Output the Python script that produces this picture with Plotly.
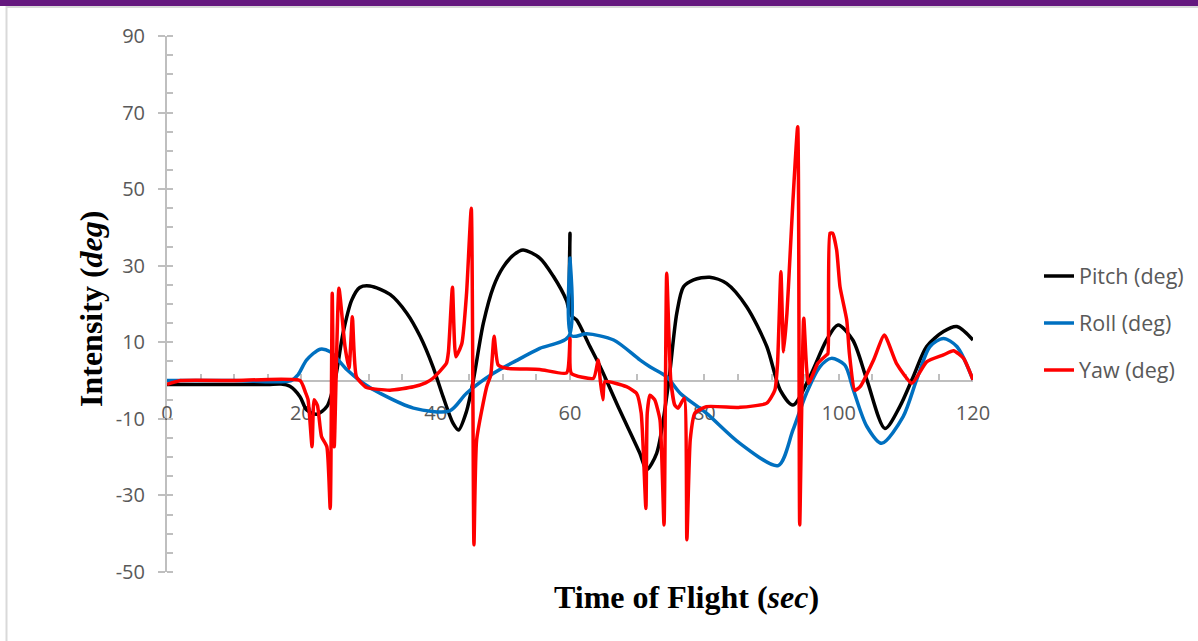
import plotly.graph_objects as go

# ---------------- data ----------------
pitch_t = [0, 5, 10, 15, 17, 18.3, 19.8, 20.8, 22.3, 23.8, 25, 26.2, 27.5, 28.7, 30.2, 33.2,
           35.7, 37.7, 39.6, 41.1, 42.6, 43.4, 44.6, 45.6, 47.1, 48.6, 50, 51.6, 53, 55.5, 57.5,
           59.5, 59.8, 60, 60.2, 61, 62.8, 64.5, 67.4, 70.4, 71.4, 72.9, 74.6, 75.9, 76.9,
           78.4, 80.8, 83.3, 86.3, 89.3, 91.3, 93.2, 95.7, 98.2, 99.9, 102.1, 104.2, 106.9,
           109.1, 111.1, 113.1, 115.6, 117.6, 120]
pitch_v = [-1, -1, -1, -1, -0.9, -1.5, -4.2, -7.7, -8.8, -6.8, 0, 12.3, 21, 24.3, 24.7, 22.5,
           17.6, 11.5, 3.6, -4.2, -11.2, -12.9, -8, 0, 15, 24.5, 29.5, 32.8, 34.1, 32.0, 27.3,
           20.8, 18.8, 38.5, 17, 15.8, 9.5, 3.6, -7.7, -19, -23.3, -19, -1.6, 17.6, 24.5,
           26.3, 27, 25.4, 19.3, 8.9, -2.5, -6.4, 1, 10.6, 14.5, 10.6, 0.2, -12.5,
           -6.8, 1, 8.9, 12.8, 14.1, 10.6]

roll_t = [0, 10, 18.5, 19.5, 20.8, 22.8, 24.3, 26.8, 29.2, 31.7, 36.7, 42.1, 44.6, 48.6,
          52, 55.5, 59.8, 60, 60.2, 62.5, 66.5, 70.4, 71.9, 74.4, 76.4, 80.3, 85.3, 91,
          93.2, 95.2, 97.2, 98.9, 100.9, 102.2, 104.2, 106.4, 109.6, 111.6, 113.6, 115.6,
          117.6, 120]
roll_v = [0, 0, 0, 1.5, 5.4, 8.2, 7.5, 2.8, -0.7, -3.3, -7.2, -7.9, -3.3, 1.9,
          5.2, 8.4, 11.5, 32, 11.7, 12.2, 10.6, 5.4, 3.6, 1, -3.3, -8.5, -16.4, -22.2,
          -12.9, -3.3, 3.6, 5.8, 4.1, -2.5, -12, -16.4, -9.4, 0.2, 8.9, 11,
          8.9, 0.2]

yaw_t = [0, 2, 10, 19.8, 20.6, 21, 21.6, 21.9, 22.4, 23, 23.8, 24.3, 24.6, 24.9, 25.6,
         26.5, 27.1, 27.6, 28.2, 29.7, 33.2, 36.7, 38.5, 39.6, 41.6, 41.9, 42.5, 43, 43.9,
         44.6, 45.3, 45.7, 46.1, 47.6, 48.2, 48.7, 49.3, 50.6, 55.5, 59.5, 60, 60.2, 63.5,
         64.2, 64.5, 64.9, 65.2, 68.4, 69.9, 70.6, 71.3, 71.5, 71.9, 72.6, 73.4, 74, 74.4,
         75, 75.6, 76.1, 77, 77.4, 77.9, 78.6, 80.3, 85.3, 89.3, 90.5, 90.9, 91.4, 91.8,
         92.3, 92.7, 93.2, 93.9, 94.2, 94.8, 95.5, 96.9, 98.2, 98.4, 98.7, 99.1, 99.7,
         100.2, 101.2, 101.6, 102.4, 103.2, 105.2, 106.8, 108.6, 110.9, 113.1, 115.6,
         117.1, 118.6, 120]
yaw_v = [-1, 0, 0, 0, -3, -5, -17.3, -5, -6.5, -14.6, -17.3, -33.4, 22.8, -17.3, 24.1,
         8.9, 3.2, 16.7, 1, -1.8, -2.5, -1.6, -0.6, 0.6, 4.5, 7.5, 24.4, 6.2, 9.7,
         22.8, 45, -42.9, -15.5, -1.6, 1.4, 11.6, 4.1, 3.2, 2.9, 2, 11, 1.9, 0.6,
         5.4, 0.2, -5, -0.3, -1.6, -3.3, -8.5, -33.4, -8.5, -3.8, -5, -10.3, -37.7, 28,
         0.2, -6.4, -7.2, -4.6, -41.6, -15.5, -8.5, -6.8, -7, -5.9, -2.5, 4.5, 28.4, 7.5,
         17.6, 30.6, 47.2, 66.3, -37.7, 16.3, -0.7, 4.5, 6.7, 7, 38.5, 38.5, 34.1,
         24.5, 15.8, 7, -2.5, -1.6, 5.4, 11.9, 4.5, -0.7, 4.9, 6.7,
         7.8, 5.8, 0.2]

series_names = ["Pitch (deg)", "Roll (deg)", "Yaw (deg)"]
x_ticks = [0, 20, 40, 60, 80, 100, 120]
y_ticks = [-50, -30, -10, 10, 30, 50, 70, 90]
y_tick_text = ["-50", "-30", "-10", "10", "30", "50", "70", "90"]

# ---------------- figure ----------------
W, H = 1198, 641
ML, MR, MT, MB = 167, 225, 36, 69
PW, PH = W - ML - MR, H - MT - MB
Y0, Y1 = -50, 90
AXC = "#BFBFBF"
TXT = "#595959"
LW = 3.5

fig = go.Figure()
fig.add_trace(go.Scatter(x=pitch_t, y=pitch_v, mode="lines", name=series_names[0],
                         line=dict(color="#000000", width=LW, shape="spline", smoothing=0.8),
                         legendgroup="a"))
fig.add_trace(go.Scatter(x=roll_t, y=roll_v, mode="lines", name=series_names[1],
                         line=dict(color="#0070C0", width=LW, shape="spline", smoothing=0.8),
                         legendgroup="b"))
fig.add_trace(go.Scatter(x=yaw_t, y=yaw_v, mode="lines", name=series_names[2],
                         line=dict(color="#FF0000", width=LW, shape="spline", smoothing=0.5),
                         legendgroup="c"))

def px_x(p):
    return (p - ML) / PW

def px_y(p):
    return (H - MB - p) / PH

fig.update_layout(
    width=W, height=H,
    margin=dict(l=ML, r=MR, t=MT, b=MB, pad=0, autoexpand=False),
    paper_bgcolor="white", plot_bgcolor="white",
    font=dict(family="Open Sans", size=20, color=TXT),
    showlegend=True,
    legend=dict(x=px_x(1039), y=px_y(323), xanchor="left", yanchor="middle",
                font=dict(family="Open Sans", size=21.5, color=TXT),
                traceorder="grouped", tracegroupgap=16,
                bgcolor="rgba(0,0,0,0)", borderwidth=0),
    xaxis=dict(range=[0, 120], anchor="free", position=(0 - Y0) / (Y1 - Y0),
               showline=True, linecolor=AXC, linewidth=2, showgrid=False, zeroline=False,
               tickmode="array", tickvals=x_ticks, ticks="inside", ticklen=6,
               tickcolor=AXC, tickwidth=2, ticklabelstandoff=14,
               tickfont=dict(family="Open Sans", size=20, color=TXT),
               minor=dict(dtick=5, tick0=0, ticks="inside", ticklen=6,
                          tickcolor=AXC, tickwidth=2),
               automargin=False, layer="below traces"),
    yaxis=dict(range=[Y0, Y1], showline=True, linecolor=AXC, linewidth=2,
               showgrid=False, zeroline=False,
               tickmode="array", tickvals=y_ticks, ticktext=y_tick_text,
               ticks="outside", ticklen=7,
               tickcolor=AXC, tickwidth=2, ticklabelstandoff=9,
               tickfont=dict(family="Open Sans", size=20, color=TXT),
               minor=dict(dtick=5, tick0=-50, ticks="inside", ticklen=6,
                          tickcolor=AXC, tickwidth=2),
               automargin=False, layer="below traces"),
    yaxis2=dict(range=[Y0, Y1], overlaying="y", side="left", anchor="x",
                showline=False, showgrid=False, zeroline=False,
                tickmode="array", tickvals=y_ticks, ticks="inside", ticklen=6,
                tickcolor=AXC, tickwidth=2, showticklabels=False, automargin=False),
)

# axis titles
fig.add_annotation(xref="paper", yref="paper", x=px_x(686), y=px_y(597),
                   xanchor="center", yanchor="middle", showarrow=False,
                   text="<b>Time of Flight (<i>sec</i>)</b>",
                   font=dict(family="Liberation Serif", size=32, color="#000000"))
fig.add_annotation(xref="paper", yref="paper", x=px_x(91), y=px_y(309),
                   xanchor="center", yanchor="middle", showarrow=False, textangle=-90,
                   text="<b>Intensity (<i>deg</i>)</b>",
                   font=dict(family="Liberation Serif", size=32, color="#000000"))

# chart frame and top banner
fig.add_shape(type="rect", xref="paper", yref="paper", layer="below",
              x0=px_x(6.5), x1=px_x(1210), y0=px_y(7), y1=px_y(660),
              line=dict(color="#D9D9D9", width=2), fillcolor="rgba(0,0,0,0)")
fig.add_shape(type="rect", xref="paper", yref="paper", layer="above",
              x0=px_x(-5), x1=px_x(1210), y0=px_y(6), y1=px_y(-5),
              line=dict(width=0), fillcolor="#65187F")

fig.write_html("out.html", config={"displayModeBar": False},
               post_script="document.body.style.margin='0';")
